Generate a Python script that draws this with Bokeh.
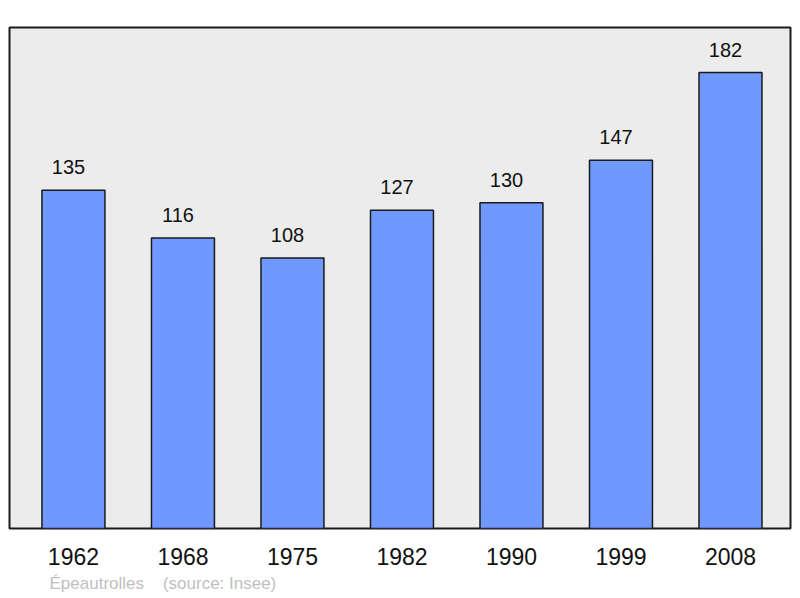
from bokeh.plotting import figure
from bokeh.models import Range1d, FixedTicker, Title, ColumnDataSource
from bokeh.core.properties import value
from bokeh.embed import file_html
from bokeh.resources import INLINE

years = ["1962", "1968", "1975", "1982", "1990", "1999", "2008"]
population = [135, 116, 108, 127, 130, 147, 182]
commune = "Épeautrolles"
source_note = "(source: Insee)"

xs = list(range(len(years)))
src = ColumnDataSource(dict(x=xs, top=population, lab=[str(v) for v in population]))

p = figure(width=792, height=598, output_backend="svg", toolbar_location=None,
           x_range=Range1d(-0.584, 6.548), y_range=Range1d(0, 200),
           min_border_left=9, min_border_right=2, min_border_top=27, min_border_bottom=70)

p.background_fill_color = "#ececec"
p.border_fill_color = "white"
p.outline_line_color = "#1a1a1a"
p.outline_line_width = 2
p.xgrid.visible = False
p.ygrid.visible = False
p.yaxis.visible = False

p.vbar(x="x", top="top", bottom=0, width=0.575, source=src,
       fill_color="#7099ff", line_color="#1a1a1a", line_width=1.5)
p.text(x="x", y="top", text="lab", source=src, y_offset=-23, x_offset=-5,
       text_align="center", text_baseline="middle",
       text_font=value("Liberation Sans"), text_font_size="20px", text_color="#111111")

ax = p.xaxis[0]
ax.ticker = FixedTicker(ticks=xs)
ax.major_label_overrides = {i: y for i, y in enumerate(years)}
ax.axis_line_color = None
ax.major_tick_line_color = None
ax.minor_tick_line_color = None
ax.major_tick_out = 0
ax.major_tick_in = 0
ax.major_label_standoff = 19
ax.major_label_text_font = "Liberation Sans"
ax.major_label_text_font_size = "23px"
ax.major_label_text_color = "#111111"

t = Title(text=commune + "\u00a0\u00a0\u00a0\u00a0" + source_note, align="left", offset=40,
          text_font="Liberation Sans", text_font_size="17px", text_font_style="normal",
          text_color="#c0c0c0", standoff=9)
p.add_layout(t, "below")

open("out.html", "w").write(file_html(p, INLINE))
